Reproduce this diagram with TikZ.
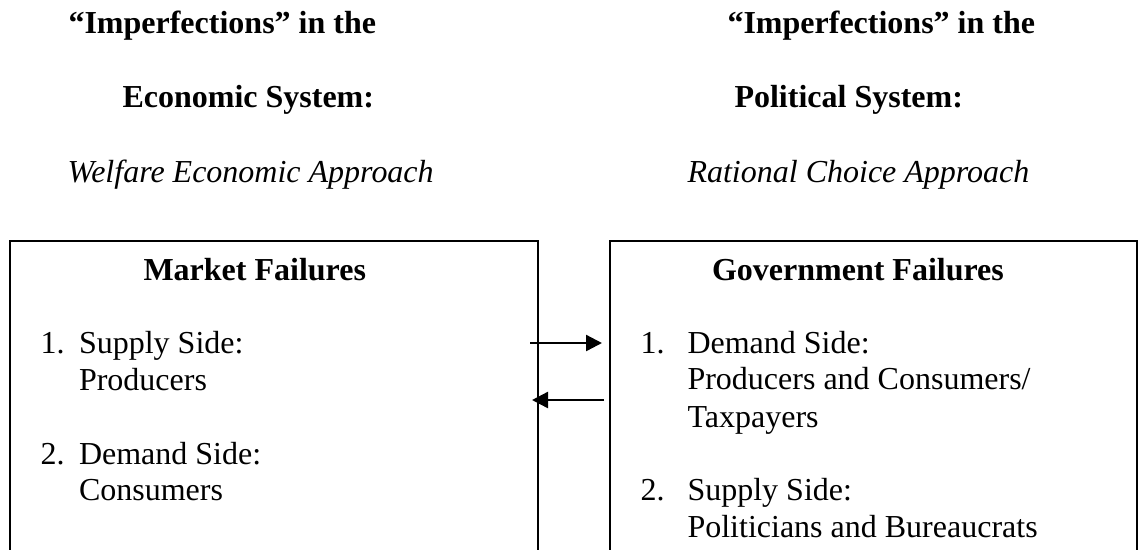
\documentclass[tikz,border=0pt]{standalone}
\usepackage{fontspec}
\setmainfont{Liberation Serif}
\usetikzlibrary{arrows.meta}
\begin{document}
\begin{tikzpicture}[x=0.375pt,y=-0.375pt,
  txt/.style={inner sep=0pt,anchor=base west,font=\fontsize{12}{14}\selectfont},
  bld/.style={txt,font=\fontsize{12}{14}\selectfont\bfseries},
  itl/.style={txt,font=\fontsize{12}{14}\selectfont\itshape},
  frame/.style={draw=black,line width=0.55pt},
  link/.style={draw=black,line width=0.9pt,-{Triangle[length=6pt,width=6pt]}}]
\useasboundingbox (0,0) rectangle (1138,549);
\clip (0,0) rectangle (1138,549);
% titles
\node[bld] (t1) at (68,33) {``Imperfections'' in the};
\node[bld] (t2) at (122,107) {Economic System:};
\node[itl] (t3) at (67,182) {Welfare Economic Approach};
\node[bld] (u1) at (727,33) {``Imperfections'' in the};
\node[bld] (u2) at (734,107) {Political System:};
\node[itl] (u3) at (687,182) {Rational Choice Approach};
% boxes
\draw[frame] (10,241) rectangle (538,570);
\draw[frame] (610,241) rectangle (1137,570);
% left box text
\node[bld] (mf) at (143,280) {Market Failures};
\node[txt] (l1n) at (40,353) {1.};
\node[txt] (l1a) at (78.5,353) {Supply Side:};
\node[txt] (l1b) at (78.5,390) {Producers};
\node[txt] (l2n) at (40,464) {2.};
\node[txt] (l2a) at (78.5,464) {Demand Side:};
\node[txt] (l2b) at (78.5,500) {Consumers};
% right box text
\node[bld] (gf) at (711.5,280) {Government Failures};
\node[txt] (r1n) at (640,353) {1.};
\node[txt] (r1a) at (687,353) {Demand Side:};
\node[txt] (r1b) at (687,389) {Producers and Consumers/};
\node[txt] (r1c) at (687,427) {Taxpayers};
\node[txt] (r2n) at (640,500) {2.};
\node[txt] (r2a) at (687,500) {Supply Side:};
\node[txt] (r2b) at (687,537) {Politicians and Bureaucrats};
% arrows
\coordinate (a1s) at (530,343);
\coordinate (a1e) at (602,343);
\coordinate (a2s) at (604,400);
\coordinate (a2e) at (532,400);
\draw[link] (a1s) -- (a1e);
\draw[link] (a2s) -- (a2e);
\end{tikzpicture}
\end{document}
